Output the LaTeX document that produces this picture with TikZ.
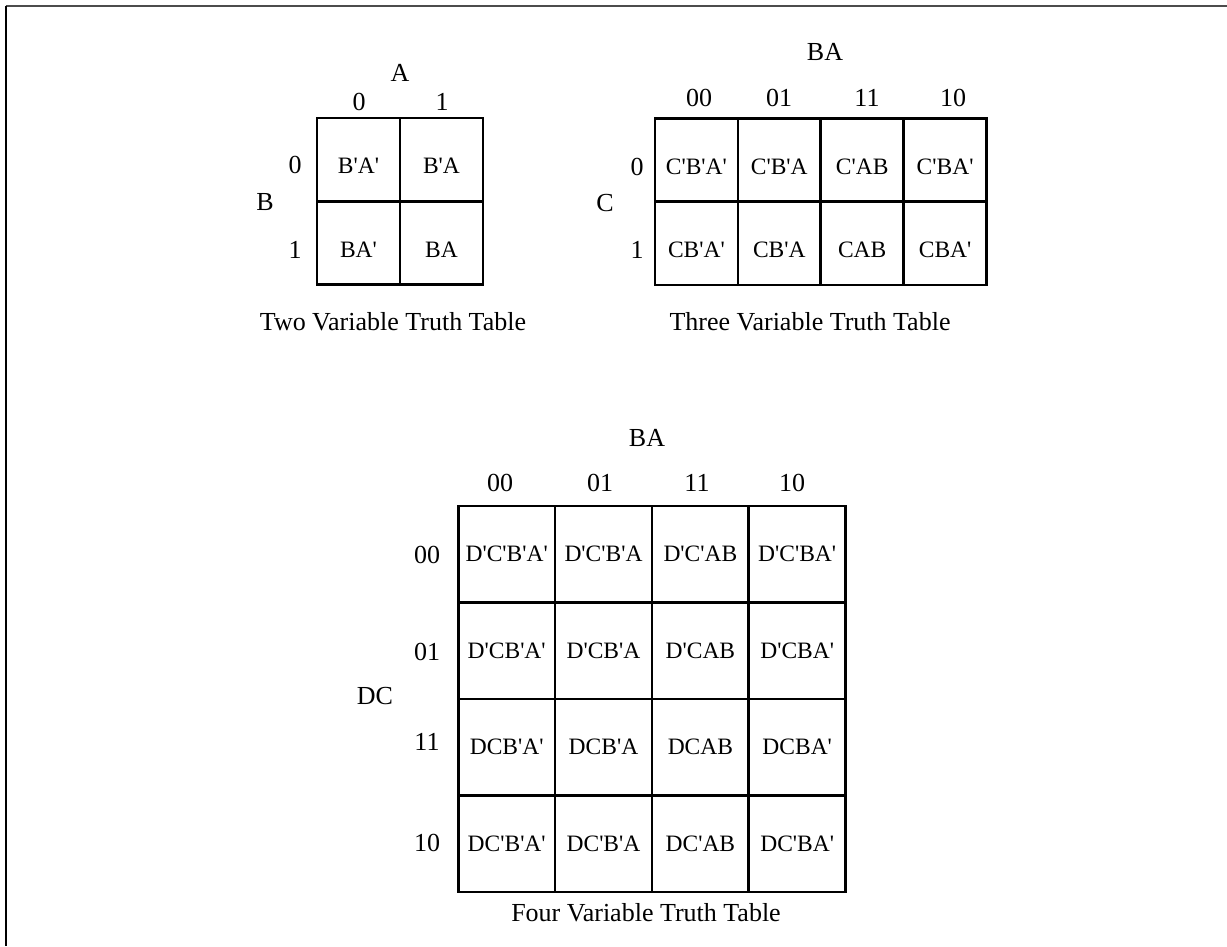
\documentclass[tikz,border=0pt]{standalone}
\usepackage{fontspec}
\newfontfamily\tnr{Liberation Serif}
\begin{document}
\begin{tikzpicture}[x=1pt,y=-1pt,
  lab/.style={inner sep=0pt, font=\tnr\fontsize{26}{30}\selectfont},
  cellbase/.style={draw, line width=2.6pt, inner sep=0pt, font=\tnr\fontsize{23.5}{27}\selectfont},
  cellsm/.style={cellbase, minimum width=83pt, minimum height=83pt, text height=28pt, text depth=0pt},
  cellbig/.style={cellbase, minimum width=96.9pt, minimum height=96.5pt}]
\useasboundingbox (0,0) rectangle (1227,946);
% frame
\coordinate (fTL) at (5.5,5.5);
\coordinate (fTR) at (1227,5.5);
\coordinate (fBL) at (5.5,946);
\draw[line width=2pt, black!70] (fTL) -- (fTR);
\draw[line width=2pt, black] (fTL) -- (fBL);

% ---------- two variable ----------
\node[cellsm] (t00) at (358.5,159.5) {B'A'};
\node[cellsm] (t01) at (441.5,159.5) {B'A};
\node[cellsm] (t10) at (358.5,243) {BA'};
\node[cellsm] (t11) at (441.5,243) {BA};
\node[lab] (tA) at (400,73) {A};
\node[lab] (tc0) at (359,102) {0};
\node[lab] (tc1) at (442,102) {1};
\node[lab] (tr0) at (295,165) {0};
\node[lab] (tr1) at (295,250) {1};
\node[lab] (tB) at (265,202) {B};
\node[lab] (tcap) at (393,322) {Two Variable Truth Table};

% ---------- three variable ----------
\node[cellsm] (h00) at (696.4,160.2) {C'B'A'};
\node[cellsm] (h01) at (779.3,160.2) {C'B'A};
\node[cellsm] (h02) at (862.2,160.2) {C'AB};
\node[cellsm] (h03) at (945.1,160.2) {C'BA'};
\node[cellsm] (h10) at (696.4,243.3) {CB'A'};
\node[cellsm] (h11) at (779.3,243.3) {CB'A};
\node[cellsm] (h12) at (862.2,243.3) {CAB};
\node[cellsm] (h13) at (945.1,243.3) {CBA'};
\node[lab] (hBA) at (825,52) {BA};
\node[lab] (hc0) at (699,98) {00};
\node[lab] (hc1) at (779,98) {01};
\node[lab] (hc2) at (867,98) {11};
\node[lab] (hc3) at (953,98) {10};
\node[lab] (hr0) at (637,167) {0};
\node[lab] (hr1) at (637,250) {1};
\node[lab] (hC) at (605,203) {C};
\node[lab] (hcap) at (810,322) {Three Variable Truth Table};

% ---------- four variable ----------
\node[cellbig] (f00) at (506.7,554.2) {D'C'B'A'};
\node[cellbig] (f01) at (603.5,554.2) {D'C'B'A};
\node[cellbig] (f02) at (700.4,554.2) {D'C'AB};
\node[cellbig] (f03) at (797.2,554.2) {D'C'BA'};
\node[cellbig] (f10) at (506.7,650.7) {D'CB'A'};
\node[cellbig] (f11) at (603.5,650.7) {D'CB'A};
\node[cellbig] (f12) at (700.4,650.7) {D'CAB};
\node[cellbig] (f13) at (797.2,650.7) {D'CBA'};
\node[cellbig] (f20) at (506.7,747.2) {DCB'A'};
\node[cellbig] (f21) at (603.5,747.2) {DCB'A};
\node[cellbig] (f22) at (700.4,747.2) {DCAB};
\node[cellbig] (f23) at (797.2,747.2) {DCBA'};
\node[cellbig] (f30) at (506.7,843.7) {DC'B'A'};
\node[cellbig] (f31) at (603.5,843.7) {DC'B'A};
\node[cellbig] (f32) at (700.4,843.7) {DC'AB};
\node[cellbig] (f33) at (797.2,843.7) {DC'BA'};
\node[lab] (fBA) at (647,438) {BA};
\node[lab] (fc0) at (500,483) {00};
\node[lab] (fc1) at (600,483) {01};
\node[lab] (fc2) at (697,483) {11};
\node[lab] (fc3) at (792,483) {10};
\node[lab] (fr0) at (427,555) {00};
\node[lab] (fr1) at (427,652) {01};
\node[lab] (fr2) at (427,742) {11};
\node[lab] (fr3) at (427,843) {10};
\node[lab] (fDC) at (375,696) {DC};
\node[lab] (fcap) at (646,913) {Four Variable Truth Table};
\end{tikzpicture}
\end{document}
